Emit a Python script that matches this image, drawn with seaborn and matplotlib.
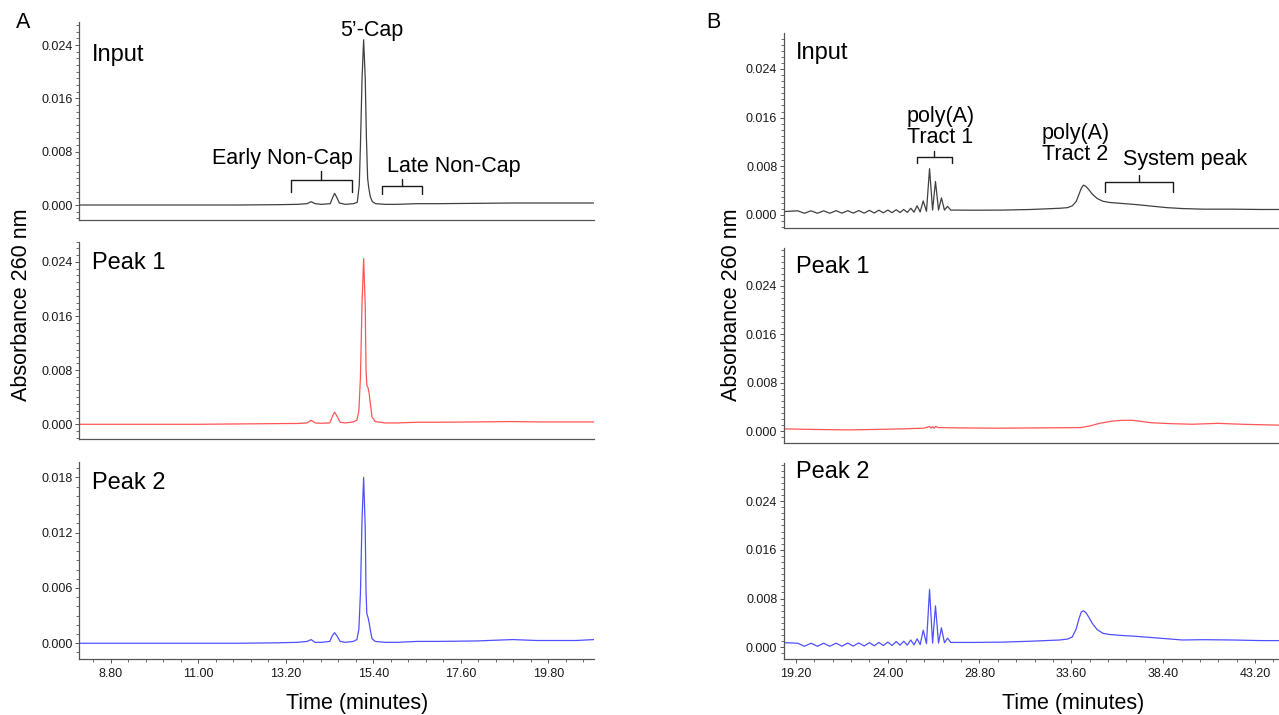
import matplotlib
matplotlib.use("Agg")
import matplotlib.pyplot as plt
import matplotlib.ticker as mticker
import seaborn as sns

# ---- Panel A: 5'-cap region, time (min) vs absorbance at 260 nm ----
a_time_input = [8.00, 9.00, 10.00, 11.00, 12.00, 13.00, 13.50, 13.74, 13.84, 13.94,
                14.10, 14.32, 14.38, 14.43, 14.48, 14.55, 14.70, 14.90, 15.00, 15.05,
                15.08, 15.12, 15.16, 15.20, 15.23, 15.26, 15.29, 15.33, 15.38, 15.46,
                15.70, 16.00, 16.50, 17.00, 18.00, 18.90, 19.50, 20.50, 20.95]
a_abs_input = [0.0000, 0.0000, 0.0000, 0.0000, 0.0000, 0.00005, 0.0001, 0.0002, 0.0005, 0.0002,
               0.0001, 0.0002, 0.0011, 0.00175, 0.0012, 0.0003, 0.0001, 0.0002, 0.0004, 0.0030,
               0.0090, 0.0190, 0.0248, 0.0190, 0.0100, 0.0040, 0.0025, 0.0012, 0.0005, 0.0002,
               0.0001, 0.0001, 0.0002, 0.0002, 0.00025, 0.0003, 0.0003, 0.0003, 0.0003]

a_time_peaks = [8.00, 9.00, 10.00, 11.00, 12.00, 13.00, 13.50, 13.74, 13.84, 13.94,
                14.10, 14.31, 14.37, 14.43, 14.49, 14.57, 14.70, 14.90, 14.99, 15.04,
                15.08, 15.12, 15.16, 15.20, 15.22, 15.24, 15.27, 15.30, 15.33, 15.37,
                15.45, 15.70, 16.00, 16.50, 17.00, 18.00, 18.90, 19.50, 20.50, 20.95]
a_abs_peak1 = [0.0000, 0.0000, 0.0000, 0.0000, 0.00005, 0.0001, 0.00012, 0.0002, 0.0006, 0.0002,
               0.00015, 0.0002, 0.0011, 0.0018, 0.0012, 0.0003, 0.0002, 0.00035, 0.0006, 0.0020,
               0.0070, 0.0180, 0.0245, 0.0175, 0.0080, 0.0058, 0.0054, 0.0045, 0.0030, 0.0011,
               0.0004, 0.0002, 0.0002, 0.0003, 0.0003, 0.00035, 0.0004, 0.00035, 0.00035, 0.00035]
a_abs_peak2 = [0.0000, 0.0000, 0.0000, 0.0000, 0.0000, 0.00005, 0.0001, 0.0002, 0.0004, 0.0001,
               0.0001, 0.0002, 0.0008, 0.00115, 0.0008, 0.0002, 0.0001, 0.0002, 0.0004, 0.0015,
               0.0055, 0.0135, 0.0180, 0.0125, 0.0055, 0.0032, 0.0028, 0.0022, 0.0014, 0.0005,
               0.0002, 0.0001, 0.0001, 0.0002, 0.0002, 0.00025, 0.0004, 0.0003, 0.0003, 0.0004]

# ---- Panel B: poly(A) region ----
b_time_ladder = [18.56, 19.30, 19.65, 20.00, 20.33, 20.66, 20.98, 21.31, 21.61, 21.92,
                 22.20, 22.49, 22.77, 23.05, 23.30, 23.54, 23.78, 24.01, 24.23, 24.45,
                 24.65, 24.84, 25.03, 25.21, 25.38, 25.54, 25.70, 25.86, 26.03, 26.19,
                 26.35, 26.50, 26.66, 26.81, 26.97, 27.13, 27.30, 27.50, 28.50, 30.00,
                 31.50, 33.00, 33.40, 33.65, 33.85, 34.00, 34.12, 34.23, 34.36, 34.50,
                 34.70, 34.95, 35.25, 35.60, 36.20, 37.00, 37.80, 38.60, 39.40, 40.50,
                 42.00, 43.50, 44.45]
b_abs_input = [0.00055, 0.00068, 0.00028, 0.00068, 0.00028, 0.00068, 0.00028, 0.00070, 0.00030, 0.00070,
               0.00030, 0.00072, 0.00030, 0.00075, 0.00032, 0.00078, 0.00035, 0.00080, 0.00038, 0.00085,
               0.00040, 0.00090, 0.00042, 0.00110, 0.00045, 0.00150, 0.00050, 0.00230, 0.00060, 0.00760,
               0.00080, 0.00550, 0.00080, 0.00280, 0.00080, 0.00140, 0.00080, 0.00080, 0.00078, 0.00080,
               0.00090, 0.00110, 0.00120, 0.00150, 0.00220, 0.00340, 0.00440, 0.00490, 0.00470, 0.00420,
               0.00340, 0.00270, 0.00225, 0.00205, 0.00190, 0.00170, 0.00145, 0.00120, 0.00105, 0.00095,
               0.00095, 0.00090, 0.00090]
b_abs_peak2 = [0.00077, 0.00067, 0.00017, 0.00067, 0.00017, 0.00067, 0.00017, 0.00068, 0.00018, 0.00070,
               0.00020, 0.00072, 0.00022, 0.00075, 0.00025, 0.00080, 0.00028, 0.00085, 0.00030, 0.00095,
               0.00034, 0.00100, 0.00036, 0.00120, 0.00040, 0.00140, 0.00045, 0.00280, 0.00060, 0.00950,
               0.00070, 0.00680, 0.00070, 0.00320, 0.00075, 0.00150, 0.00080, 0.00080, 0.00080, 0.00085,
               0.00100, 0.00120, 0.00135, 0.00170, 0.00300, 0.00470, 0.00580, 0.00600, 0.00570, 0.00500,
               0.00390, 0.00290, 0.00230, 0.00210, 0.00195, 0.00180, 0.00160, 0.00140, 0.00120, 0.00125,
               0.00120, 0.00110, 0.00110]

b_time_peak1 = [18.56, 20.00, 21.91, 23.50, 24.81, 25.90, 26.19, 26.27, 26.35, 26.43,
                26.50, 26.65, 27.72, 29.65, 32.00, 34.10, 34.60, 35.07, 35.70, 36.23,
                36.81, 37.78, 38.80, 39.90, 41.26, 42.50, 44.45]
b_abs_peak1 = [0.00039, 0.00030, 0.00022, 0.00030, 0.00039, 0.00050, 0.00080, 0.00050, 0.00075, 0.00050,
               0.00080, 0.00060, 0.00055, 0.00050, 0.00055, 0.00060, 0.00090, 0.00130, 0.00165, 0.00180,
               0.00180, 0.00140, 0.00125, 0.00115, 0.00130, 0.00115, 0.00100]

trace_names = ["Input", "Peak 1", "Peak 2"]
trace_colors = ["#404040", "#ff5555", "#5050ff"]

sns.set_style("ticks")
plt.rcParams['font.family'] = ['Liberation Sans', 'DejaVu Sans']
plt.rcParams['text.color'] = 'black'

W, H = 1279, 715
fig = plt.figure(figsize=(W / 100, H / 100), dpi=100)


def px(x, y):
    return x / W, 1 - y / H


def style_axis(ax, xlim, ylim, ymajor, xmajor, xminor, show_x):
    ax.set_xlim(xlim)
    ax.set_ylim(ylim)
    ax.set_xlabel("")
    ax.set_ylabel("")
    for s in ["top", "right"]:
        ax.spines[s].set_visible(False)
    for s in ["left", "bottom"]:
        ax.spines[s].set_color("#555555")
        ax.spines[s].set_linewidth(0.9)
    ax.yaxis.set_major_locator(mticker.MultipleLocator(ymajor))
    ax.yaxis.set_minor_locator(mticker.MultipleLocator(0.001))
    ax.yaxis.set_major_formatter(mticker.FormatStrFormatter("%.3f"))
    ax.tick_params(axis="y", which="major", length=3, width=0.7, colors="#555555",
                   labelsize=9, labelcolor="#1a1a1a", pad=1.5)
    ax.tick_params(axis="y", which="minor", length=2, width=0.6, colors="#555555")
    if show_x:
        ax.xaxis.set_major_locator(mticker.MultipleLocator(xmajor))
        ax.xaxis.set_minor_locator(mticker.MultipleLocator(xminor))
        ax.xaxis.set_major_formatter(mticker.FormatStrFormatter("%.2f"))
        ax.tick_params(axis="x", which="major", length=3, width=0.7, colors="#555555",
                       labelsize=9, labelcolor="#1a1a1a", pad=3)
        ax.tick_params(axis="x", which="minor", length=2, width=0.6, colors="#555555")
    else:
        ax.tick_params(axis="x", which="both", bottom=False, labelbottom=False)


def bracket(ax, t0, t1, ytop, yleg, ynotch):
    tm = (t0 + t1) / 2
    kw = dict(color="#1a1a1a", lw=1.0, clip_on=False)
    ax.plot([t0, t0, t1, t1], [yleg, ytop, ytop, yleg], **kw)
    ax.plot([tm, tm], [ytop, ynotch], **kw)


# ---------------- Panel A ----------------
a_rects = [(0.0615, 0.6923, 0.403, 0.2773),
           (0.0615, 0.3856, 0.403, 0.2764),
           (0.0615, 0.0779, 0.403, 0.2764)]
a_ylims = [(-0.00225, 0.0275), (-0.00222, 0.0270), (-0.00174, 0.0197)]
a_ymajor = [0.008, 0.008, 0.006]
a_series = [(a_time_input, a_abs_input), (a_time_peaks, a_abs_peak1), (a_time_peaks, a_abs_peak2)]
a_title_y = [55, 263, 483]

axes_a = []
for i in range(3):
    ax = fig.add_axes(a_rects[i])
    t, a = a_series[i]
    sns.lineplot(x=t, y=a, ax=ax, color=trace_colors[i], linewidth=0.9, estimator=None)
    style_axis(ax, (8.0, 20.95), a_ylims[i], a_ymajor[i], 2.2, 0.44, i == 2)
    fig.text(*px(92, a_title_y[i]), trace_names[i], fontsize=17, va="center", ha="left")
    axes_a.append(ax)

ax = axes_a[0]
ax.text(15.36, 0.02625, "5\u2019-Cap", fontsize=15.5, ha="center", va="center")
ax.text(13.13, 0.00705, "Early Non-Cap", fontsize=15.5, ha="center", va="center")
ax.text(17.42, 0.00585, "Late Non-Cap", fontsize=15.5, ha="center", va="center")
bracket(ax, 13.33, 14.87, 0.00375, 0.00195, 0.0051)
bracket(ax, 15.61, 16.62, 0.0029, 0.00165, 0.0039)

# ---------------- Panel B ----------------
b_rects = [(0.6126, 0.6815, 0.3874, 0.2723),
           (0.6126, 0.3808, 0.3874, 0.2719),
           (0.6126, 0.0779, 0.3874, 0.2741)]
b_ylims = [(-0.0021, 0.0299), (-0.0019, 0.0302), (-0.00197, 0.0302)]
b_series = [(b_time_ladder, b_abs_input), (b_time_peak1, b_abs_peak1), (b_time_ladder, b_abs_peak2)]
b_title_y = [53, 267, 472]

axes_b = []
for i in range(3):
    ax = fig.add_axes(b_rects[i])
    t, a = b_series[i]
    sns.lineplot(x=t, y=a, ax=ax, color=trace_colors[i], linewidth=0.9, estimator=None)
    style_axis(ax, (18.56, 44.45), b_ylims[i], 0.008, 4.8, 0.96, i == 2)
    fig.text(*px(796, b_title_y[i]), trace_names[i], fontsize=17, va="center", ha="left")
    axes_b.append(ax)

ax = axes_b[0]
ax.text(26.76, 0.01447, "poly(A)\nTract 1", fontsize=15.5, ha="center", va="center", linespacing=1.05)
ax.text(33.81, 0.01167, "poly(A)\nTract 2", fontsize=15.5, ha="center", va="center", linespacing=1.05)
ax.text(39.55, 0.00904, "System peak", fontsize=15.5, ha="center", va="center")
bracket(ax, 25.52, 27.37, 0.00949, 0.0085, 0.01057)
bracket(ax, 35.38, 38.93, 0.00538, 0.00383, 0.00658)

# shared labels and panel letters
fig.text(*px(22, 305), "Absorbance 260 nm", rotation=90, fontsize=15.5, ha="center", va="center")
fig.text(*px(732, 305), "Absorbance 260 nm", rotation=90, fontsize=15.5, ha="center", va="center")
fig.text(*px(357, 703), "Time (minutes)", fontsize=15.5, ha="center", va="center")
fig.text(*px(1073, 703), "Time (minutes)", fontsize=15.5, ha="center", va="center")
fig.text(*px(23, 23), "A", fontsize=15.5, ha="center", va="center")
fig.text(*px(713, 23), "B", fontsize=15.5, ha="center", va="center")

fig.savefig("out.png", dpi=100)
